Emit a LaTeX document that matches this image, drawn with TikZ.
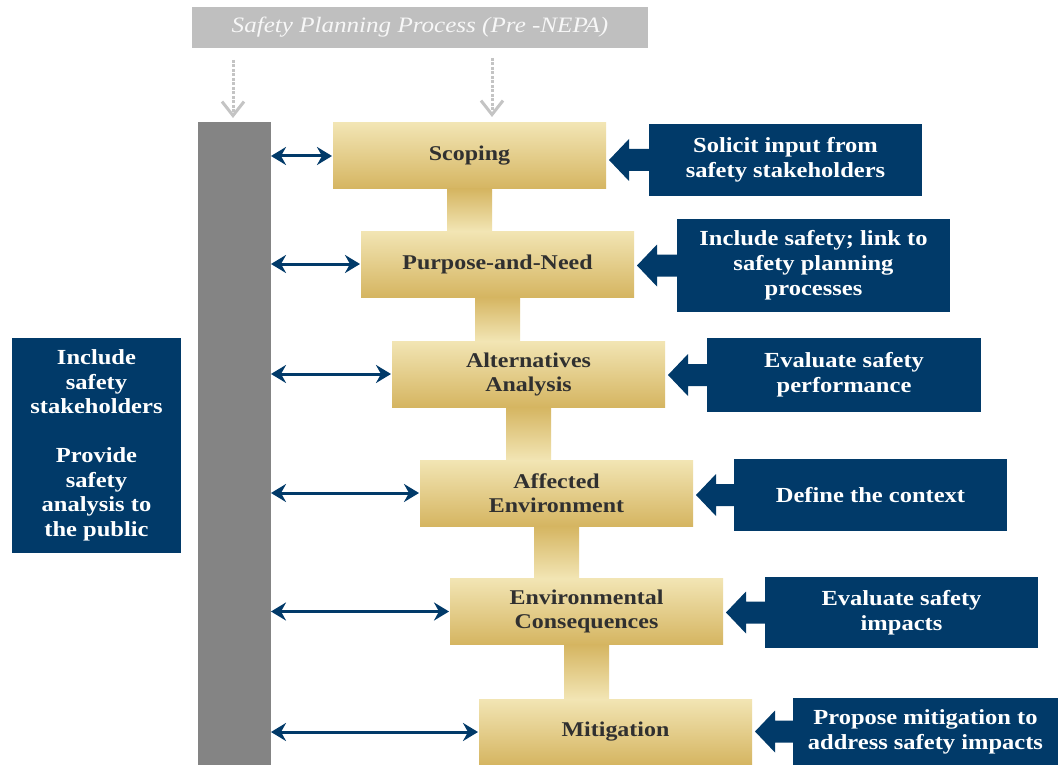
\documentclass[tikz,border=0pt]{standalone}
\usepackage{fontspec}
\setmainfont{Liberation Serif}[FakeStretch=1.14]
\usetikzlibrary{arrows.meta,calc}
\definecolor{navy}{RGB}{1,58,105}
\definecolor{goldL}{RGB}{242,229,180}
\definecolor{goldD}{RGB}{213,181,97}
\definecolor{barGray}{RGB}{132,132,132}
\definecolor{banGray}{RGB}{191,191,191}
\definecolor{dashGray}{RGB}{196,196,196}
\definecolor{txtDark}{RGB}{48,48,48}
\tikzset{
  goldbox/.style={shade, top color=goldL, bottom color=goldD, minimum width=273pt, minimum height=66pt,
    inner sep=0pt, outer sep=0pt, align=center, text=txtDark, font=\bfseries\fontsize{21}{24}\selectfont},
  goldlink/.style={shade, top color=goldD, bottom color=goldL},
  bluebox/.style={fill=navy, inner sep=0pt, outer sep=0pt, align=center, text=white,
    font=\bfseries\fontsize{21.5}{25}\selectfont},
  dblarrow/.style={draw=navy, line width=3pt, {Stealth[length=15pt,width=18pt,inset=5pt]}-{Stealth[length=15pt,width=18pt,inset=5pt]}},
  dasharrow/.style={draw=dashGray, line width=3pt, dash pattern=on 3pt off 1.5pt, -{Straight Barb[length=14pt,width=22pt,line width=3pt]}},
}
\newcommand{\blockarrow}[2]{%
  \fill[navy] let \p1=(#1.east), \p2=(#2.west) in
    (\x2+1pt,\y2+11pt) -- (\x1+23pt,\y2+11pt) -- (\x1+23pt,\y2+21pt) -- (\x1+3pt,\y2)
    -- (\x1+23pt,\y2-21pt) -- (\x1+23pt,\y2-11pt) -- (\x2+1pt,\y2-11pt) -- cycle;}
\begin{document}
\begin{tikzpicture}[x=1pt,y=-1pt]
\useasboundingbox (0,0) rectangle (1058,765);
\fill[white] (0,0) rectangle (1058,765);

% banner
\node[fill=banGray, minimum width=456pt, minimum height=41pt, inner sep=0pt, text=white!97!black,
  font=\itshape\fontsize{22}{24}\selectfont] (banner) at (420,27.5) {Safety Planning Process (Pre -NEPA)};

% grey bar
\node[fill=barGray, minimum width=73pt, minimum height=643pt, inner sep=0pt, outer sep=0pt] (bar) at (234.5,443.5) {};

% gold process boxes
\node[goldbox] (g1) at (469.5,156) {\raisebox{-3pt}{Scoping}};
\node[goldbox] (g2) at (497.5,264) {\raisebox{-2pt}{Purpose-and-Need}};
\node[goldbox] (g3) at (528.5,374) {Alternatives\\Analysis};
\node[goldbox] (g4) at (556.5,493) {Affected\\Environment};
\node[goldbox] (g5) at (586.5,611.5) {Environmental\\Consequences};
\node[goldbox] (g6) at (615.5,732) {\raisebox{-2pt}{Mitigation}};

% gold links between boxes
\shade[goldlink] ([xshift=114pt]g1.south west) rectangle ([xshift=159pt]g1.south west |- g2.north);
\shade[goldlink] ([xshift=114pt]g2.south west) rectangle ([xshift=159pt]g2.south west |- g3.north);
\shade[goldlink] ([xshift=114pt]g3.south west) rectangle ([xshift=159pt]g3.south west |- g4.north);
\shade[goldlink] ([xshift=114pt]g4.south west) rectangle ([xshift=159pt]g4.south west |- g5.north);
\shade[goldlink] ([xshift=114pt]g5.south west) rectangle ([xshift=159pt]g5.south west |- g6.north);

% blue boxes
\node[bluebox, minimum width=273pt, minimum height=72pt] (b1) at (785.5,160) {Solicit input from\\safety stakeholders};
\node[bluebox, minimum width=273pt, minimum height=93pt] (b2) at (813.5,265.5) {Include safety; link to\\safety planning\\processes};
\node[bluebox, minimum width=274pt, minimum height=74pt] (b3) at (844,375) {Evaluate safety\\performance};
\node[bluebox, minimum width=273pt, minimum height=72pt] (b4) at (870.5,495) {Define the context};
\node[bluebox, minimum width=273pt, minimum height=71pt] (b5) at (901.5,612.5) {Evaluate safety\\impacts};
\node[bluebox, minimum width=265pt, minimum height=67pt] (b6) at (925.5,731.5) {Propose mitigation to\\address safety impacts};
\node[bluebox, minimum width=169pt, minimum height=215pt, font=\bfseries\fontsize{21.5}{24.5}\selectfont] (lb) at (96.5,445.5)
  {Include\\safety\\stakeholders\\[24.5pt]Provide\\safety\\analysis to\\the public};

% block arrows
\blockarrow{g1}{b1}
\blockarrow{g2}{b2}
\blockarrow{g3}{b3}
\blockarrow{g4}{b4}
\blockarrow{g5}{b5}
\blockarrow{g6}{b6}

% double arrows
\foreach \g in {g1,g2,g3,g4,g5,g6}{
  \draw[dblarrow] (bar.east |- \g.west) -- ([xshift=-1pt]\g.west);
}

% dashed arrows
\coordinate (dl) at (233,60);
\coordinate (dr) at (492,58);
\draw[dasharrow] (dl) -- ($(dl |- bar.north)+(0,-4)$);
\draw[dasharrow] (dr) -- ([yshift=6pt]dr |- g1.north);
\end{tikzpicture}
\end{document}
